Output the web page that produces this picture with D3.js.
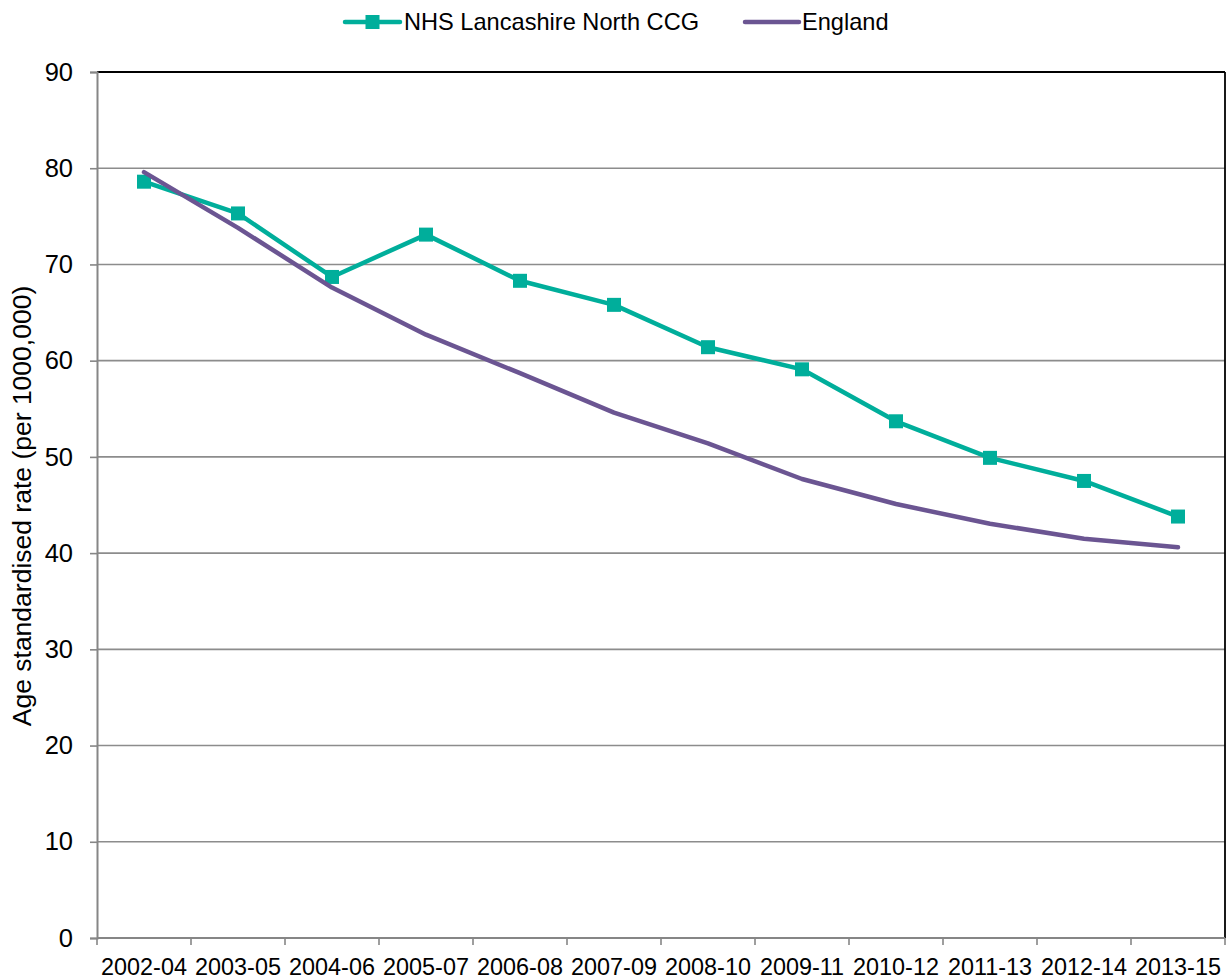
<!DOCTYPE html>
<html>
<head>
<meta charset="utf-8">
<script src="https://cdn.jsdelivr.net/npm/d3@7"></script>
<style>
  html, body { margin: 0; padding: 0; background: #ffffff; }
  svg { display: block; font-family: "Liberation Sans", Arial, sans-serif; }
</style>
</head>
<body>
<svg id="chart" width="1227" height="980"></svg>
<script>
const categories = ["2002-04","2003-05","2004-06","2005-07","2006-08","2007-09","2008-10","2009-11","2010-12","2011-13","2012-14","2013-15"];
const lancashireValues = [78.6, 75.3, 68.7, 73.1, 68.3, 65.8, 61.4, 59.1, 53.7, 49.9, 47.5, 43.8];
const englandValues = [79.6, 73.8, 67.6, 62.7, 58.7, 54.6, 51.4, 47.7, 45.1, 43.05, 41.5, 40.6];
const yTicks = [0, 10, 20, 30, 40, 50, 60, 70, 80, 90];
const seriesNames = ["NHS Lancashire North CCG", "England"];
const yTitle = "Age standardised rate (per 1000,000)";

const teal = "#00ae9b";
const purple = "#6b5592";
const gridColor = "#8c8c8c";
const axisColor = "#868686";

const svg = d3.select("#chart");
const margin = {left: 97, right: 2, top: 72, bottom: 42};
const W = 1227, H = 980;
const plotW = W - margin.left - margin.right;
const plotH = H - margin.top - margin.bottom;

const x = d3.scaleBand().domain(categories).range([margin.left, margin.left + plotW]).padding(0);
const y = d3.scaleLinear().domain([0, 90]).range([margin.top + plotH, margin.top]);
const cx = d => x(d) + x.bandwidth() / 2;

// gridlines
svg.append("g").selectAll("line").data(yTicks.filter(t => t > 0 && t < 90)).join("line")
  .attr("x1", margin.left).attr("x2", margin.left + plotW)
  .attr("y1", d => y(d)).attr("y2", d => y(d))
  .attr("stroke", gridColor).attr("stroke-width", 1.6);

// top and right border
svg.append("line").attr("x1", margin.left).attr("x2", margin.left + plotW)
  .attr("y1", y(90)).attr("y2", y(90)).attr("stroke", "#000").attr("stroke-width", 1.8);
svg.append("line").attr("x1", margin.left + plotW).attr("x2", margin.left + plotW)
  .attr("y1", y(90)).attr("y2", y(0)).attr("stroke", "#000").attr("stroke-width", 1.8);

// y axis
const yAxis = d3.axisLeft(y).tickValues(yTicks).tickSize(7).tickPadding(17).tickFormat(d3.format("d"));
const gy = svg.append("g").attr("transform", `translate(${margin.left},0)`).call(yAxis);
gy.select(".domain").attr("stroke", axisColor).attr("stroke-width", 2);
gy.selectAll(".tick line").attr("stroke", axisColor).attr("stroke-width", 1.6);
gy.selectAll(".tick text").attr("font-size", "25.5px").attr("fill", "#000")
  .attr("font-family", "'Liberation Sans', Arial, sans-serif");

// x axis
const xAxis = d3.axisBottom(x).tickSize(0).tickPadding(20);
const gx = svg.append("g").attr("transform", `translate(0,${y(0)})`).call(xAxis);
gx.select(".domain").remove();
gx.selectAll(".tick text").attr("font-size", "23.4px").attr("fill", "#000")
  .attr("font-family", "'Liberation Sans', Arial, sans-serif");
svg.append("line").attr("x1", margin.left).attr("x2", margin.left + plotW)
  .attr("y1", y(0)).attr("y2", y(0)).attr("stroke", axisColor).attr("stroke-width", 2);
const boundaries = categories.map(c => x(c)).concat([x(categories[categories.length - 1]) + x.bandwidth()]);
svg.append("g").selectAll("line").data(boundaries).join("line")
  .attr("x1", d => d).attr("x2", d => d)
  .attr("y1", y(0)).attr("y2", y(0) + 7)
  .attr("stroke", axisColor).attr("stroke-width", 1.6);

// y title
svg.append("text")
  .attr("transform", `translate(31,506) rotate(-90)`)
  .attr("text-anchor", "middle")
  .attr("font-size", "26.5px").attr("fill", "#000")
  .text(yTitle);

// lines
const line = d3.line().x((d, i) => cx(categories[i])).y(d => y(d));
svg.append("path").datum(lancashireValues).attr("d", line)
  .attr("fill", "none").attr("stroke", teal).attr("stroke-width", 4.5).attr("stroke-linejoin", "round");
svg.append("g").selectAll("rect").data(lancashireValues).join("rect")
  .attr("x", (d, i) => cx(categories[i]) - 7).attr("y", d => y(d) - 7)
  .attr("width", 14).attr("height", 14).attr("fill", teal);
svg.append("path").datum(englandValues).attr("d", line)
  .attr("fill", "none").attr("stroke", purple).attr("stroke-width", 4.5)
  .attr("stroke-linejoin", "round").attr("stroke-linecap", "round");

// legend
const lg = svg.append("g");
lg.append("line").attr("x1", 345).attr("x2", 400).attr("y1", 22).attr("y2", 22)
  .attr("stroke", teal).attr("stroke-width", 4.5).attr("stroke-linecap", "round");
lg.append("rect").attr("x", 365.5).attr("y", 15).attr("width", 14).attr("height", 14).attr("fill", teal);
lg.append("text").attr("x", 404).attr("y", 30).attr("font-size", "23.6px").attr("fill", "#000").text(seriesNames[0]);
lg.append("line").attr("x1", 745).attr("x2", 799).attr("y1", 22).attr("y2", 22)
  .attr("stroke", purple).attr("stroke-width", 4.5).attr("stroke-linecap", "round");
lg.append("text").attr("x", 802).attr("y", 30).attr("font-size", "23.6px").attr("fill", "#000").text(seriesNames[1]);
</script>
</body>
</html>
